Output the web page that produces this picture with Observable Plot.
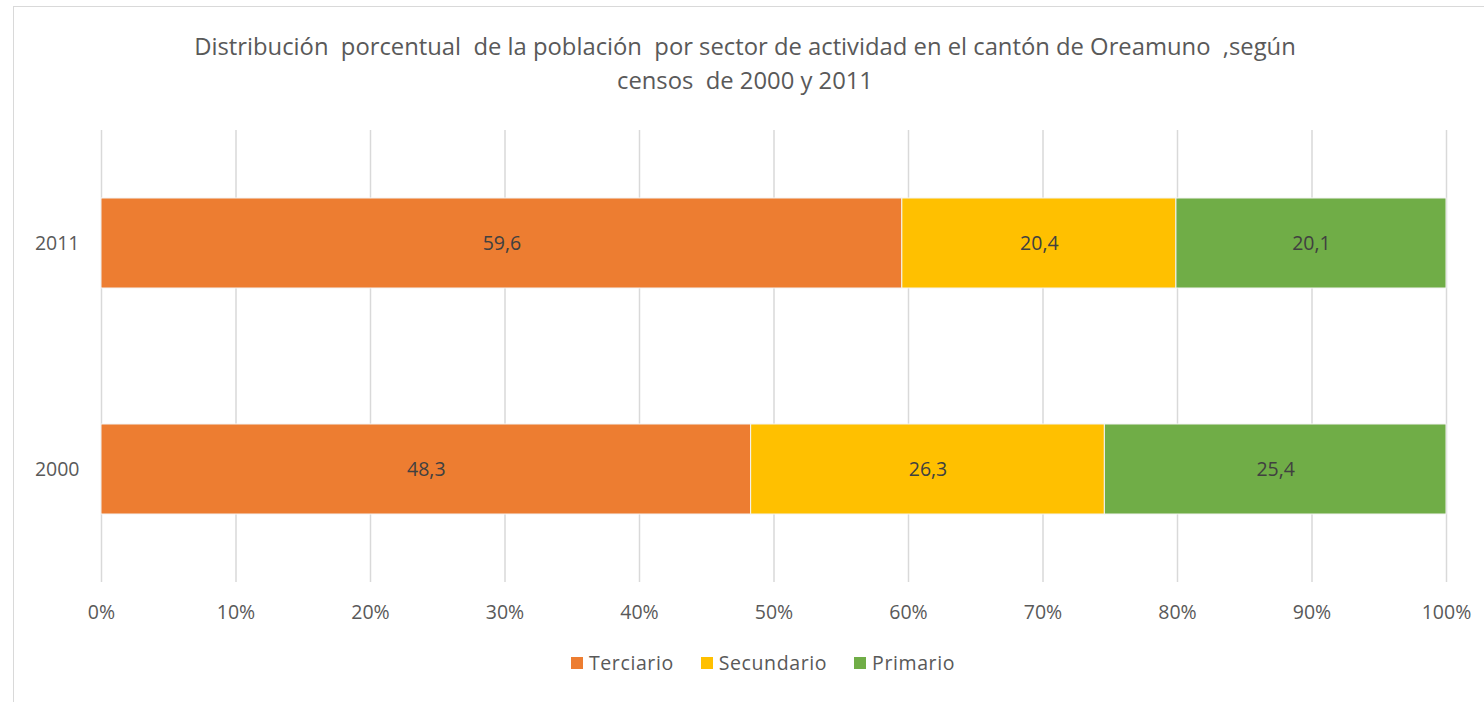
<!DOCTYPE html>
<html>
<head>
<meta charset="utf-8">
<script src="https://cdn.jsdelivr.net/npm/d3@7"></script>
<script src="https://cdn.jsdelivr.net/npm/@observablehq/plot@0.6"></script>
<style>
  html, body { margin: 0; padding: 0; background: #fff; overflow: hidden; }
  #frame { position: absolute; left: 13px; top: 6px; width: 1500px; height: 720px; border: 1.5px solid #d9d9d9; box-sizing: border-box; }
  #title { position: absolute; left: 0; top: 29px; width: 1490px; text-align: center; font-family: "Open Sans", sans-serif; font-size: 23.8px; line-height: 34px; color: #595959; white-space: pre; }
  #chart { position: absolute; left: 0; top: 0; }
  #legend { position: absolute; left: 0; top: 649px; width: 1526px; display: flex; justify-content: center; gap: 27px; font-family: "Open Sans", sans-serif; font-size: 19.5px; line-height: 28px; letter-spacing: 0.6px; color: #595959; }
  .item { display: flex; align-items: center; gap: 6px; }
  .sw { width: 12px; height: 12px; display: inline-block; }
</style>
</head>
<body>
<div id="frame"></div>
<div id="title">Distribución  porcentual  de la población  por sector de actividad en el cantón de Oreamuno  ,según
censos  de 2000 y 2011</div>
<div id="chart"></div>
<div id="legend"></div>
<script>
const years = ["2011", "2000"];
const sectors = ["Terciario", "Secundario", "Primario"];
const colors = ["#ED7D31", "#FFC000", "#70AD47"];
const values2011 = [59.6, 20.4, 20.1];
const values2000 = [48.3, 26.3, 25.4];
const xTicks = [0, 0.1, 0.2, 0.3, 0.4, 0.5, 0.6, 0.7, 0.8, 0.9, 1];

const data = [];
sectors.forEach((s, i) => {
  data.push({year: "2011", sector: s, value: values2011[i]});
  data.push({year: "2000", sector: s, value: values2000[i]});
});

const fmt = v => v.toFixed(1).replace(".", ",");

const chart = Plot.plot({
  width: 1484,
  height: 640,
  marginLeft: 101,
  marginRight: 38,
  marginTop: 130,
  marginBottom: 58,
  style: {fontFamily: "'Open Sans', sans-serif", fontSize: "19.5px", color: "#595959", background: "transparent"},
  x: {domain: [0, 1], label: null},
  y: {domain: years, paddingInner: 0.6018, paddingOuter: 0.3009, label: null},
  color: {domain: sectors, range: colors},
  marks: [
    Plot.ruleX(xTicks, {stroke: "#d9d9d9", strokeWidth: 1.5}),
    Plot.barX(data, Plot.stackX({offset: "normalize", order: sectors, x: "value", y: "year", fill: "sector", stroke: "#f4f4f4", strokeWidth: 1})),
    Plot.text(data, Plot.stackX({offset: "normalize", order: sectors, x: "value", y: "year", z: "sector", text: d => fmt(d.value), fill: "#404040", fontSize: 19.5})),
    Plot.axisX({ticks: xTicks, tickFormat: d3.format(".0%"), tickSize: 0, tickPadding: 23, fontSize: 19.5, fill: "#595959"}),
    Plot.axisY({tickSize: 0, tickPadding: 22, fontSize: 19.5, fill: "#595959"})
  ]
});
document.getElementById("chart").appendChild(chart);

const legend = document.getElementById("legend");
sectors.forEach((s, i) => {
  const item = document.createElement("div");
  item.className = "item";
  const sw = document.createElement("span");
  sw.className = "sw";
  sw.style.background = colors[i];
  const t = document.createElement("span");
  t.textContent = s;
  item.appendChild(sw);
  item.appendChild(t);
  legend.appendChild(item);
});
</script>
</body>
</html>
